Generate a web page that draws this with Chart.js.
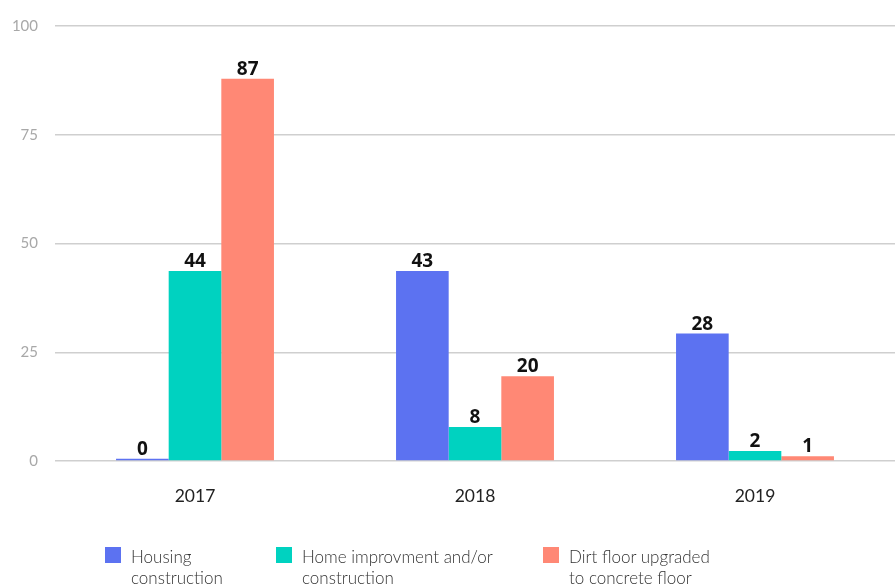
<!DOCTYPE html>
<html>
<head>
<meta charset="utf-8">
<script src="https://cdn.jsdelivr.net/npm/chart.js@4.4.0/dist/chart.umd.min.js"></script>
<style>
  html, body { margin: 0; padding: 0; background: #fff; }
  #wrap { position: relative; width: 895px; height: 585px; overflow: hidden; }
  #c { position: absolute; left: 0; top: 0; }
  .leg { position: absolute; top: 546px; display: flex; align-items: flex-start;
         font-family: Lato, "Noto Sans", sans-serif; font-weight: 300; font-size: 17px;
         line-height: 21px; color: #333; }
  .leg .box { width: 16px; height: 16px; margin-right: 10px; margin-top: 1px; flex: none; }
</style>
</head>
<body>
<div id="wrap">
  <canvas id="c" width="895" height="585"></canvas>
  <div id="legend"></div>
</div>
<script>
const categories = ["2017", "2018", "2019"];
const seriesNames = [["Housing", "construction"], ["Home improvment and/or", "construction"], ["Dirt floor upgraded", "to concrete floor"]];
const housing = [0.5, 43.7, 29.3];
const homeImprovement = [43.7, 7.8, 2.3];
const dirtFloor = [87.9, 19.5, 1.1];
const housingLabels = ["0", "43", "28"];
const homeImprovementLabels = ["44", "8", "2"];
const dirtFloorLabels = ["87", "20", "1"];
const yTicks = [0, 25, 50, 75, 100];

const colors = ["#5c72f1", "#00d2c0", "#ff8875"];
const legendLeft = [105, 276, 543];

const valueLabels = {
  id: 'valueLabels',
  afterDatasetsDraw(chart) {
    const ctx = chart.ctx;
    ctx.save();
    ctx.font = 'bold 19px "Noto Sans", "Open Sans", sans-serif';
    ctx.fillStyle = '#111';
    ctx.textAlign = 'center';
    ctx.textBaseline = 'alphabetic';
    chart.data.datasets.forEach((ds, i) => {
      const meta = chart.getDatasetMeta(i);
      meta.data.forEach((bar, j) => {
        ctx.fillText(ds.displayLabels[j], bar.x, bar.y - 4);
      });
    });
    ctx.restore();
  }
};

const chart = new Chart(document.getElementById('c'), {
  type: 'bar',
  data: {
    labels: categories,
    datasets: [
      { label: seriesNames[0].join(' '), data: housing, displayLabels: housingLabels, backgroundColor: colors[0] },
      { label: seriesNames[1].join(' '), data: homeImprovement, displayLabels: homeImprovementLabels, backgroundColor: colors[1] },
      { label: seriesNames[2].join(' '), data: dirtFloor, displayLabels: dirtFloorLabels, backgroundColor: colors[2] }
    ]
  },
  options: {
    responsive: false,
    animation: false,
    layout: { padding: { top: 15, right: 0, bottom: 53, left: 0 } },
    datasets: { bar: { categoryPercentage: 0.564, barPercentage: 1.0 } },
    plugins: { legend: { display: false }, tooltip: { enabled: false } },
    scales: {
      x: {
        grid: { display: false, drawTicks: false },
        border: { display: false },
        ticks: { color: '#222', font: { family: 'Lato, "Noto Sans", sans-serif', size: 17.5 }, padding: 25 }
      },
      y: {
        min: 0, max: 100,
        afterFit(scale) { scale.width = 55; },
        afterBuildTicks(scale) { scale.ticks = yTicks.map(v => ({ value: v })); },
        grid: { color: '#cfcfcf', lineWidth: 1.5, drawTicks: false },
        border: { display: false },
        ticks: { color: '#a8a8a8', font: { family: 'Lato, "Noto Sans", sans-serif', size: 15 }, padding: 17 }
      }
    }
  },
  plugins: [valueLabels]
});

const legend = document.getElementById('legend');
seriesNames.forEach((lines, i) => {
  const item = document.createElement('div');
  item.className = 'leg';
  item.style.left = legendLeft[i] + 'px';
  const box = document.createElement('div');
  box.className = 'box';
  box.style.background = colors[i];
  const txt = document.createElement('div');
  txt.innerHTML = lines.join('<br>');
  item.appendChild(box);
  item.appendChild(txt);
  legend.appendChild(item);
});
</script>
</body>
</html>
